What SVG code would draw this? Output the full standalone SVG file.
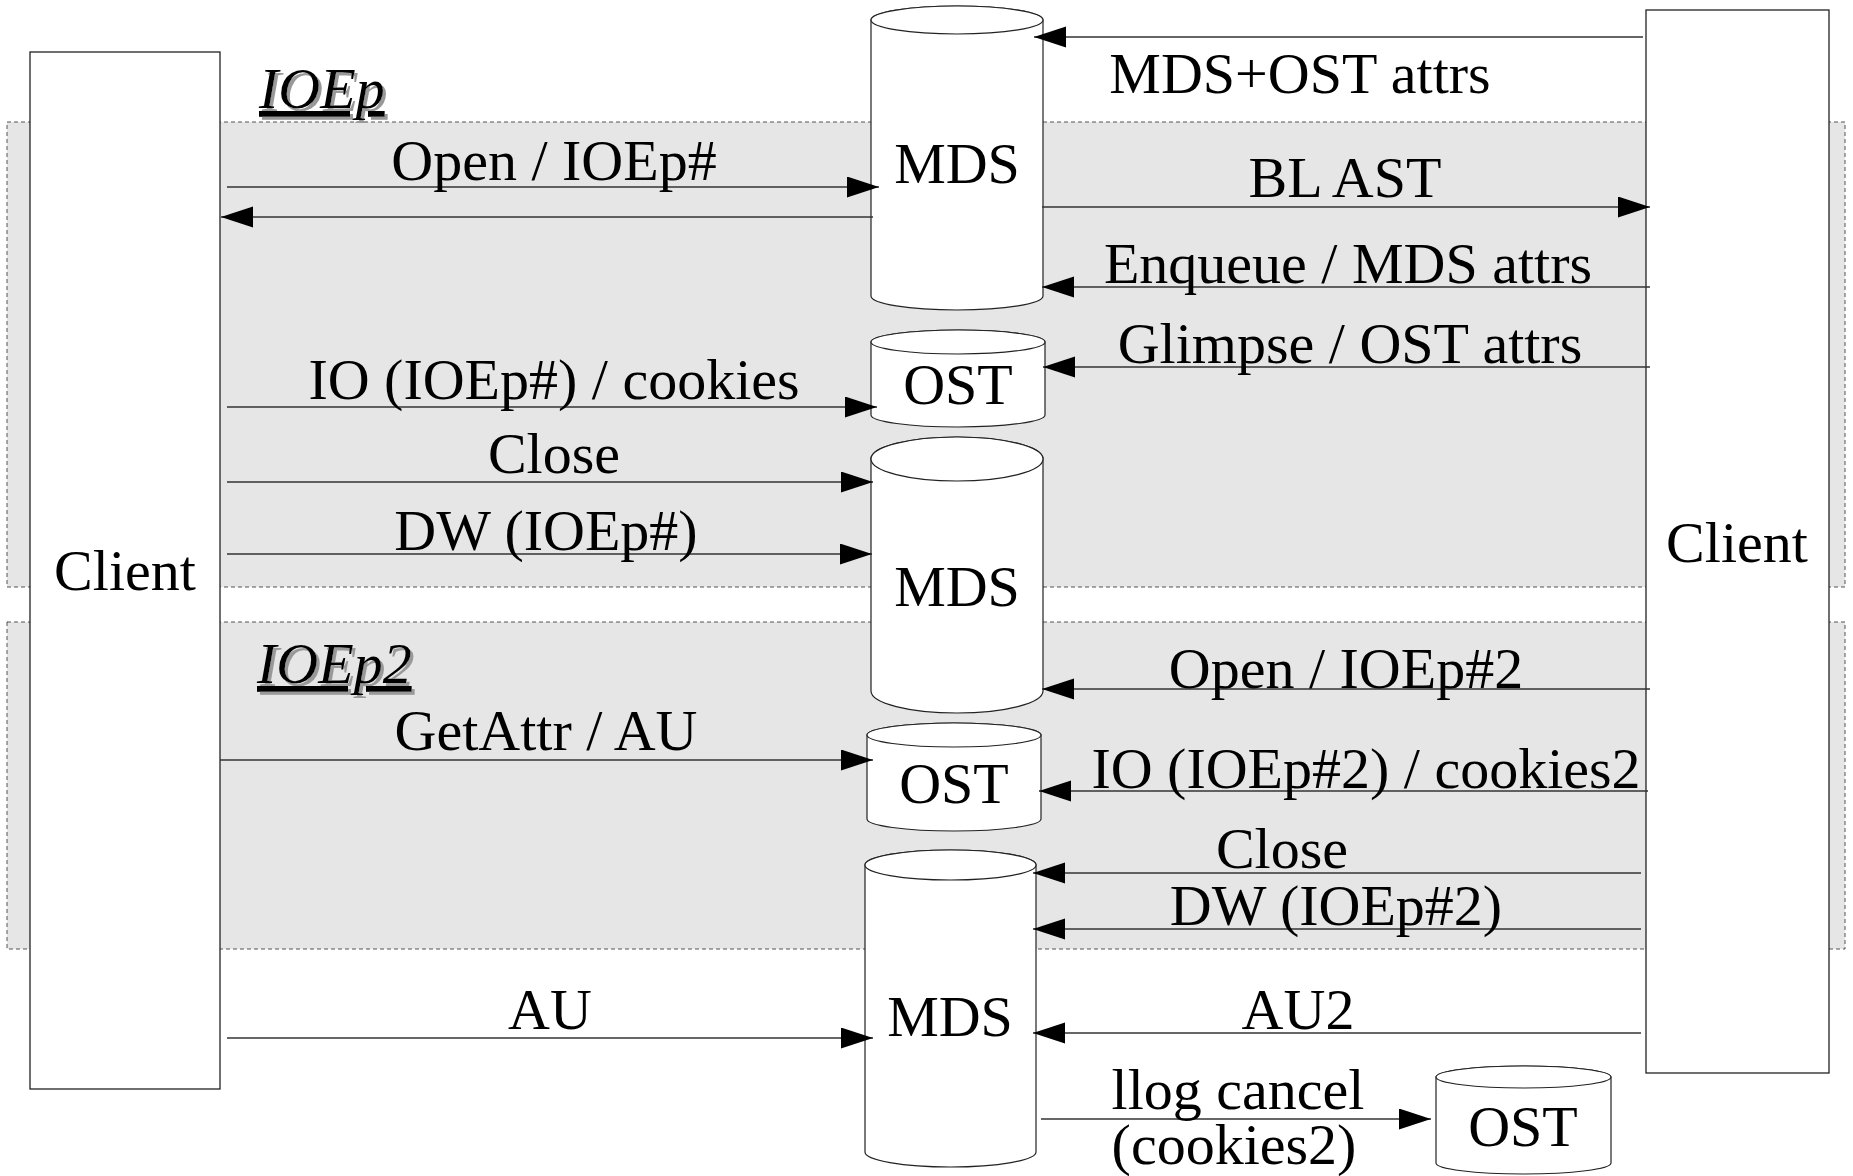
<svg xmlns="http://www.w3.org/2000/svg" width="1853" height="1176" viewBox="0 0 1853 1176">
<style>
.band{fill:#e6e6e6;stroke:#555;stroke-width:1;stroke-dasharray:4 3}
.box{fill:#fff;stroke:#222;stroke-width:1.3}
.cyl{fill:#fff;stroke:#222;stroke-width:1.2}
.t{font-family:"Liberation Serif","Times New Roman",serif;font-size:58px;fill:#000}
.m{text-anchor:middle}
.ttl{font-style:italic;text-decoration:underline;filter:url(#sh)}
.cn line{stroke:#333;stroke-width:1.3;marker-end:url(#ah)}
</style>
<defs>
<marker id="ah" markerUnits="userSpaceOnUse" markerWidth="33" markerHeight="22" refX="32" refY="10.5" orient="auto">
<path d="M0,0 L32,10.5 L0,21 Z" fill="#000"/>
</marker>
<filter id="sh" x="-10%" y="-10%" width="130%" height="140%">
<feDropShadow dx="3" dy="3" stdDeviation="0.6" flood-color="#999" flood-opacity="1"/>
</filter>
</defs>
<rect fill="#fff" width="1853" height="1176"/>
<g id="band-ioep">
<rect class="band" x="7" y="122" width="1838" height="465"/>
<text class="t ttl" x="259" y="108">IOEp</text>
</g>
<g id="band-ioep2">
<rect class="band" x="7" y="622" width="1838" height="327"/>
<text class="t ttl" x="257" y="683">IOEp2</text>
</g>
<g id="client-left">
<rect class="box" x="30" y="52" width="190" height="1037"/>
<text class="t m" x="125" y="590">Client</text>
</g>
<g id="client-right">
<rect class="box" x="1646" y="10" width="183" height="1063"/>
<text class="t m" x="1737" y="562">Client</text>
</g>
<g id="mds1">
<path class="cyl" d="M871,20 L871,296 A86,14 0 0 0 1043,296 L1043,20 A86,14 0 0 0 871,20 Z"/>
<ellipse class="cyl" cx="957" cy="20" rx="86" ry="14"/>
<text class="t m" x="957" y="183">MDS</text>
</g>
<g id="ost1">
<path class="cyl" d="M871,342 L871,415 A87,12 0 0 0 1045,415 L1045,342 A87,12 0 0 0 871,342 Z"/>
<ellipse class="cyl" cx="958" cy="342" rx="87" ry="12"/>
<text class="t m" x="958" y="404">OST</text>
</g>
<g id="mds2">
<path class="cyl" d="M871,459 L871,691 A86,22 0 0 0 1043,691 L1043,459 A86,22 0 0 0 871,459 Z"/>
<ellipse class="cyl" cx="957" cy="459" rx="86" ry="22"/>
<text class="t m" x="957" y="606">MDS</text>
</g>
<g id="ost2">
<path class="cyl" d="M867,735 L867,819 A87,12 0 0 0 1041,819 L1041,735 A87,12 0 0 0 867,735 Z"/>
<ellipse class="cyl" cx="954" cy="735" rx="87" ry="12"/>
<text class="t m" x="954" y="803">OST</text>
</g>
<g id="mds3">
<path class="cyl" d="M865,865 L865,1152 A85.5,15 0 0 0 1036,1152 L1036,865 A85.5,15 0 0 0 865,865 Z"/>
<ellipse class="cyl" cx="950.5" cy="865" rx="85.5" ry="15"/>
<text class="t m" x="950" y="1036">MDS</text>
</g>
<g id="ost3">
<path class="cyl" d="M1436,1077 L1436,1163 A87.5,11 0 0 0 1611,1163 L1611,1077 A87.5,11 0 0 0 1436,1077 Z"/>
<ellipse class="cyl" cx="1523.5" cy="1077" rx="87.5" ry="11"/>
<text class="t m" x="1523" y="1146">OST</text>
</g>
<g id="connectors" class="cn">
<line x1="227" y1="187" x2="879" y2="187"/>
<line x1="873" y1="217" x2="221" y2="217"/>
<line x1="1042" y1="207" x2="1650" y2="207"/>
<line x1="1643" y1="37" x2="1034" y2="37"/>
<line x1="1650" y1="287" x2="1042" y2="287"/>
<line x1="1650" y1="367" x2="1043" y2="367"/>
<line x1="227" y1="407" x2="877" y2="407"/>
<line x1="227" y1="482" x2="873" y2="482"/>
<line x1="227" y1="554" x2="872" y2="554"/>
<line x1="220" y1="760" x2="873" y2="760"/>
<line x1="1650" y1="689" x2="1042" y2="689"/>
<line x1="1648" y1="791" x2="1039" y2="791"/>
<line x1="1641" y1="873" x2="1033" y2="873"/>
<line x1="1641" y1="929" x2="1033" y2="929"/>
<line x1="227" y1="1038" x2="873" y2="1038"/>
<line x1="1641" y1="1033" x2="1033" y2="1033"/>
<line x1="1041" y1="1119" x2="1431" y2="1119"/>
</g>
<g id="labels">
<text class="t m" x="554" y="180">Open / IOEp#</text>
<text class="t m" x="1345" y="197">BL AST</text>
<text class="t m" x="1300" y="93">MDS+OST attrs</text>
<text class="t m" x="1348" y="283">Enqueue / MDS attrs</text>
<text class="t m" x="1350" y="363">Glimpse / OST attrs</text>
<text class="t m" x="554" y="399">IO (IOEp#) / cookies</text>
<text class="t m" x="554" y="473">Close</text>
<text class="t m" x="546" y="550">DW (IOEp#)</text>
<text class="t m" x="546" y="750">GetAttr / AU</text>
<text class="t m" x="1346" y="688">Open / IOEp#2</text>
<text class="t m" x="1366" y="788">IO (IOEp#2) / cookies2</text>
<text class="t m" x="1282" y="868">Close</text>
<text class="t m" x="1336" y="925">DW (IOEp#2)</text>
<text class="t m" x="550" y="1029">AU</text>
<text class="t m" x="1298" y="1029">AU2</text>
<text class="t m" x="1238" y="1109">llog cancel</text>
<text class="t m" x="1234" y="1164">(cookies2)</text>
</g>
</svg>
